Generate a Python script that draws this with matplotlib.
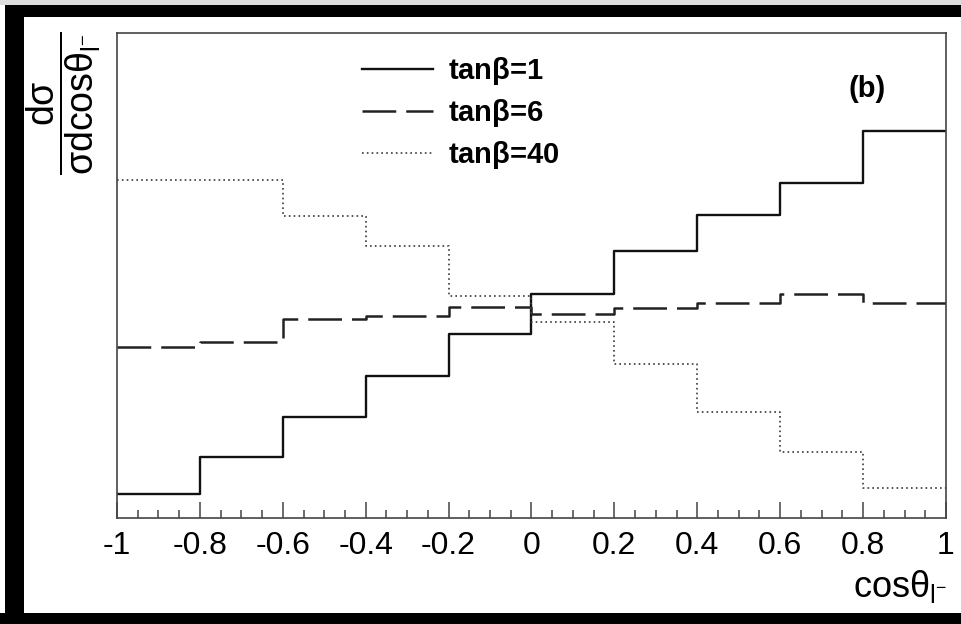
import numpy as np
import matplotlib
matplotlib.use("Agg")
import matplotlib.pyplot as plt
from matplotlib.patches import Rectangle

plt.rcParams['font.family'] = ['Liberation Sans', 'DejaVu Sans']
plt.rcParams['mathtext.fontset'] = 'custom'
plt.rcParams['mathtext.rm'] = 'Liberation Sans'
plt.rcParams['mathtext.it'] = 'Liberation Sans'
plt.rcParams['mathtext.bf'] = 'Liberation Sans:bold'
plt.rcParams['axes.unicode_minus'] = False

# bin edges in cos(theta_l)
edges = [-1.0, -0.8, -0.6, -0.4, -0.2, 0.0, 0.2, 0.4, 0.6, 0.8, 1.0]

# normalised distributions (arbitrary units)
tanb_1 = [24, 61, 101, 142, 184, 224, 267, 303, 335, 387]
tanb_6 = [171, 176, 199, 202, 211, 204, 210, 215, 224, 215]
tanb_40 = [338, 338, 302, 272, 222, 196, 154, 106, 66, 30]

labels = [r'tan$\mathbf{\beta}$=1', r'tan$\mathbf{\beta}$=6', r'tan$\mathbf{\beta}$=40']
tick_vals = [-1, -0.8, -0.6, -0.4, -0.2, 0, 0.2, 0.4, 0.6, 0.8, 1]
tick_text = ['-1', '-0.8', '-0.6', '-0.4', '-0.2', '0', '0.2', '0.4', '0.6', '0.8', '1']

W, H = 961, 624
fig = plt.figure(figsize=(W / 100, H / 100), dpi=100)
fig.patch.set_facecolor('white')

# axes box in pixels: left 117, right 946, top 33, bottom 518
ax = fig.add_axes([117 / W, 1 - 518 / H, (946 - 117) / W, (518 - 33) / H])

def stepline(vals):
    return np.append(vals, vals[-1])

ax.step(edges, stepline(tanb_1), where='post', color='#111111', lw=1.7,
        label=labels[0])
ax.step(edges, stepline(tanb_6), where='post', color='#222222', lw=1.8,
        linestyle=(0, (13.5, 4)), label=labels[1])
ax.step(edges, stepline(tanb_40), where='post', color='#3a3a3a', lw=1.2,
        linestyle=(0, (1.0, 1.9)), label=labels[2])

ax.set_xlim(-1, 1)
ax.set_ylim(0, 485)

for s in ax.spines.values():
    s.set_color('#444444')
    s.set_linewidth(1.2)

ax.set_xticks(tick_vals)
ax.set_xticklabels(tick_text, fontsize=23)
ax.set_xticks(np.arange(-1, 1.001, 0.05), minor=True)
ax.tick_params(axis='x', which='major', direction='in', length=11.5, width=1.1,
               color='#444444', pad=9, top=False)
ax.tick_params(axis='x', which='minor', direction='in', length=5.8, width=1.1,
               color='#444444', top=False)
ax.set_yticks([])

leg = ax.legend(loc='upper left', bbox_to_anchor=(362 / W, 1 - 55 / H),
                bbox_transform=fig.transFigure, frameon=False,
                prop={'weight': 'bold', 'size': 21}, handlelength=2.45,
                handletextpad=0.5, labelspacing=0.35, borderpad=0,
                borderaxespad=0)

fig.text(867 / W, 1 - 89 / H, '(b)', fontsize=21, fontweight='bold',
         ha='center', va='center')

fig.text(64 / W, 1 - 31 / H,
         r'$\dfrac{\mathrm{d}\sigma}{\sigma \mathrm{dcos}\theta_{\mathrm{l}^{-}}}$',
         rotation=90, fontsize=27, ha='center', va='top')
fig.text(947 / W, 1 - 597 / H, r'$\mathrm{cos}\theta_{\mathrm{l}^{-}}$',
         fontsize=26, ha='right', va='baseline')

# scanned black frame around the picture
fig.add_artist(Rectangle((0, 1 - 5 / H), 1, 5 / H, transform=fig.transFigure,
                         color='#dddddd', lw=0))
fig.add_artist(Rectangle((5 / W, 1 - 17 / H), 1, 12 / H, transform=fig.transFigure,
                         color='black', lw=0))
fig.add_artist(Rectangle((5 / W, 0), 19 / W, 1 - 5 / H, transform=fig.transFigure,
                         color='black', lw=0))
fig.add_artist(Rectangle((0, 0), 1, 11 / H, transform=fig.transFigure,
                         color='black', lw=0))

fig.savefig('out.png', dpi=100)
